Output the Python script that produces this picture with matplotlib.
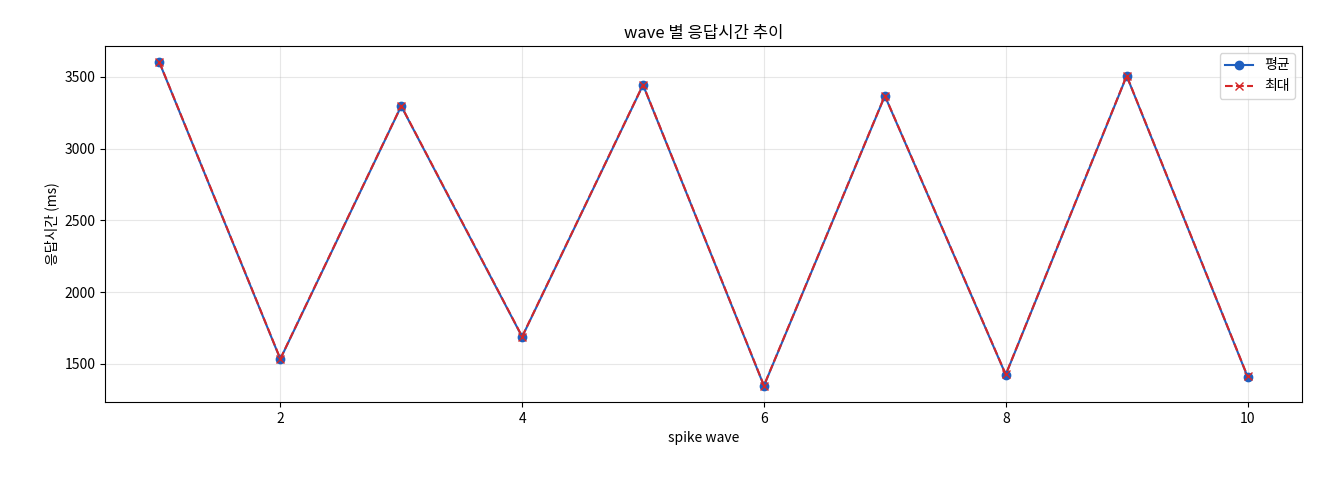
import matplotlib
matplotlib.use("Agg")
import matplotlib.pyplot as plt

plt.rcParams['font.family'] = ['Noto Sans CJK KR', 'DejaVu Sans']

waves = [1, 2, 3, 4, 5, 6, 7, 8, 9, 10]
avg_ms = [3600, 1533, 3296, 1688, 3443, 1347, 3367, 1424, 3506, 1410]
max_ms = [3602, 1535, 3298, 1690, 3445, 1349, 3369, 1426, 3508, 1412]

fig = plt.figure(figsize=(13.2, 4.8), dpi=100)
ax = fig.add_axes([105/1320, 78/480, 1197/1320, 356/480])
ax.plot(waves, avg_ms, '-o', color='#1f5fbf', label='평균', markersize=6)
ax.plot(waves, max_ms, '--x', color='#d62728', label='최대', markersize=6)
ax.set_title('wave 별 응답시간 추이')
ax.set_xlabel('spike wave')
ax.set_ylabel('응답시간 (ms)')
ax.grid(True, alpha=0.3)
ax.legend(loc='upper right')
fig.savefig('out.png', dpi=100)
